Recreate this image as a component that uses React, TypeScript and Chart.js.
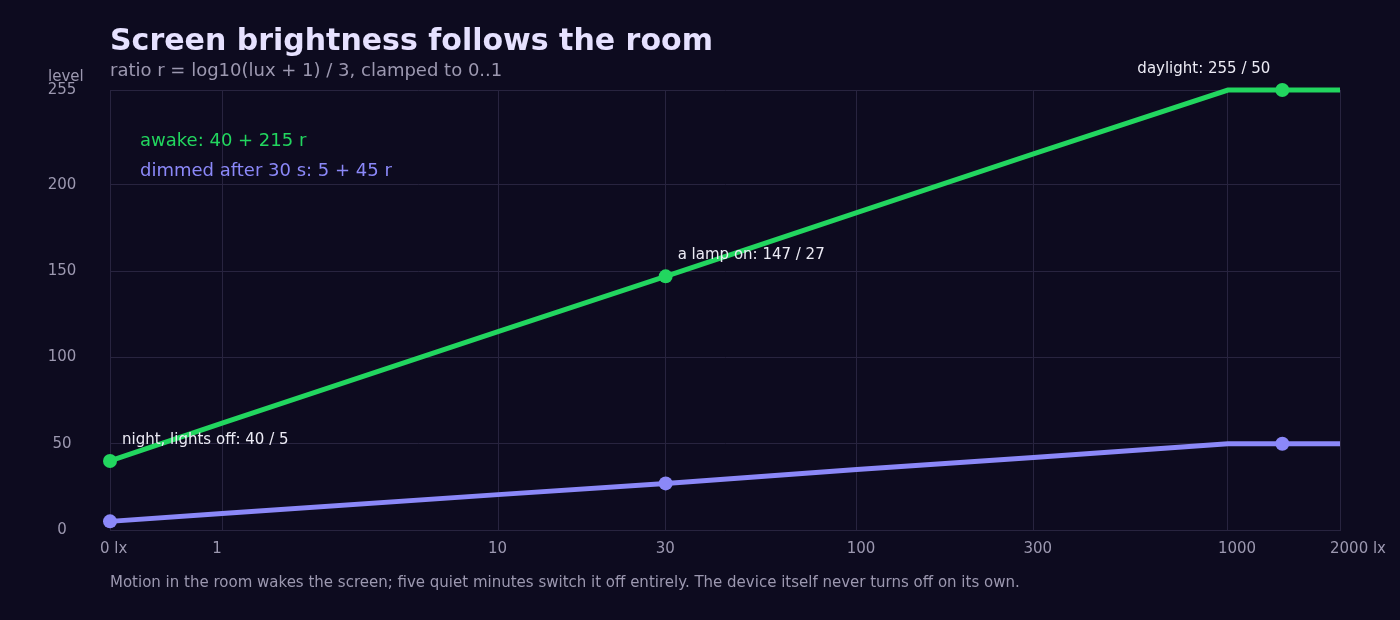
import { useEffect, useRef } from "react"
import { Chart, registerables } from "chart.js"

Chart.register(...registerables)

// lux readings along the curve and the levels
const luxSamples = [0, 1, 10, 30, 100, 300, 1000, 1400, 2000]
const awakeLevel = [40, 62, 115, 147, 184, 218, 255, 255, 255]
const dimmedLevel = [5, 9.5, 20.5, 27, 35, 42, 50, 50, 50]

// marked situations
const markedLux = [0, 30, 1400]
const calloutLevel = [40, 147, 255]
const calloutText = ["night, lights off: 40 / 5", "a lamp on: 147 / 27", "daylight: 255 / 50"]

const xTickLux = [0, 1, 10, 30, 100, 300, 1000, 2000]
const xTickLabels = ["0 lx", "1", "10", "30", "100", "300", "1000", "2000 lx"]
const yTicks = [0, 50, 100, 150, 200, 255]

const legendLabels = ["awake: 40 + 215 r", "dimmed after 30 s: 5 + 45 r"]

const BG = "#0d0b1f"
const GRID = "#28243f"
const GREEN = "#22d65f"
const PURPLE = "#8b88f8"
const MUTED = "#9c98b0"
const FONT = "'DejaVu Sans', sans-serif"

const toX = (lux: number) => Math.log10(lux + 1)

const textPlugin = {
  id: "textLayer",
  afterDraw(chart: Chart) {
    const { ctx, chartArea } = chart
    const xs = chart.scales.x
    const ys = chart.scales.y
    ctx.save()

    // title + subtitle
    ctx.textAlign = "left"
    ctx.textBaseline = "alphabetic"
    ctx.fillStyle = "#e6e1ff"
    ctx.font = `bold 30px ${FONT}`
    ctx.fillText("Screen brightness follows the room", chartArea.left, 50)
    ctx.fillStyle = MUTED
    ctx.font = `18px ${FONT}`
    ctx.fillText("ratio r = log10(lux + 1) / 3, clamped to 0..1", chartArea.left, 76)

    // y axis
    ctx.font = `15px ${FONT}`
    ctx.textBaseline = "middle"
    ctx.fillText("level", chartArea.left - 62, chartArea.top - 13)
    ctx.textAlign = "center"
    yTicks.forEach((v) => {
      ctx.fillText(String(v), chartArea.left - 48, ys.getPixelForValue(v))
    })

    // x axis
    ctx.textAlign = "left"
    xTickLux.forEach((lux, i) => {
      ctx.fillText(xTickLabels[i], xs.getPixelForValue(toX(lux)) - 10, chartArea.bottom + 19)
    })

    // footer
    ctx.fillText(
      "Motion in the room wakes the screen; five quiet minutes switch it off entirely. The device itself never turns off on its own.",
      chartArea.left,
      chartArea.bottom + 53
    )

    // legend in the plot
    ctx.font = `18px ${FONT}`
    ctx.fillStyle = GREEN
    ctx.fillText(legendLabels[0], chartArea.left + 30, chartArea.top + 51)
    ctx.fillStyle = PURPLE
    ctx.fillText(legendLabels[1], chartArea.left + 30, chartArea.top + 81)

    // callouts
    ctx.font = `15px ${FONT}`
    ctx.fillStyle = "#ecebf5"
    markedLux.forEach((lux, i) => {
      const px = xs.getPixelForValue(toX(lux))
      const py = ys.getPixelForValue(calloutLevel[i])
      const last = i === markedLux.length - 1
      ctx.textAlign = last ? "right" : "left"
      ctx.fillText(calloutText[i], last ? px - 12 : px + 12, py - 21)
    })

    ctx.restore()
  },
}

export default function App() {
  const chartRef = useRef<HTMLCanvasElement>(null)
  const chartInstance = useRef<Chart | null>(null)

  useEffect(() => {
    if (!chartRef.current) return
    if (chartInstance.current) chartInstance.current.destroy()
    const ctx = chartRef.current.getContext("2d")
    if (!ctx) return

    const radii = luxSamples.map((l) => (markedLux.includes(l) ? 7 : 0))

    chartInstance.current = new Chart(ctx, {
      type: "line",
      data: {
        datasets: [
          {
            label: "dimmed",
            data: luxSamples.map((l, i) => ({ x: toX(l), y: dimmedLevel[i] })),
            borderColor: PURPLE,
            backgroundColor: PURPLE,
            borderWidth: 5,
            pointRadius: radii,
            pointHoverRadius: radii,
            pointBorderWidth: 0,
            tension: 0,
            clip: false,
          },
          {
            label: "awake",
            data: luxSamples.map((l, i) => ({ x: toX(l), y: awakeLevel[i] })),
            borderColor: GREEN,
            backgroundColor: GREEN,
            borderWidth: 5,
            pointRadius: radii,
            pointHoverRadius: radii,
            pointBorderWidth: 0,
            tension: 0,
            clip: false,
          },
        ],
      },
      options: {
        responsive: false,
        animation: false,
        layout: { padding: { left: 110, right: 60, top: 90, bottom: 90 } },
        scales: {
          x: {
            type: "linear",
            min: 0,
            max: toX(2000),
            afterBuildTicks: (scale: any) => {
              scale.ticks = xTickLux.map((l) => ({ value: toX(l) }))
            },
            afterFit: (scale: any) => {
              scale.height = 0
            },
            ticks: { display: false },
            grid: { color: GRID, drawTicks: false, lineWidth: 1 },
            border: { display: true, color: GRID },
          },
          y: {
            min: 0,
            max: 255,
            afterBuildTicks: (scale: any) => {
              scale.ticks = yTicks.map((v) => ({ value: v }))
            },
            afterFit: (scale: any) => {
              scale.width = 0
            },
            ticks: { display: false },
            grid: { color: GRID, drawTicks: false, lineWidth: 1 },
            border: { display: true, color: GRID },
          },
        },
        plugins: {
          legend: { display: false },
          tooltip: { enabled: false },
        },
      },
      plugins: [textPlugin],
    })

    return () => {
      if (chartInstance.current) {
        chartInstance.current.destroy()
        chartInstance.current = null
      }
    }
  }, [])

  return (
    <div style={{ position: "fixed", left: 0, top: 0, width: 1400, height: 620, background: BG }}>
      <canvas ref={chartRef} width={1400} height={620}></canvas>
    </div>
  )
}
